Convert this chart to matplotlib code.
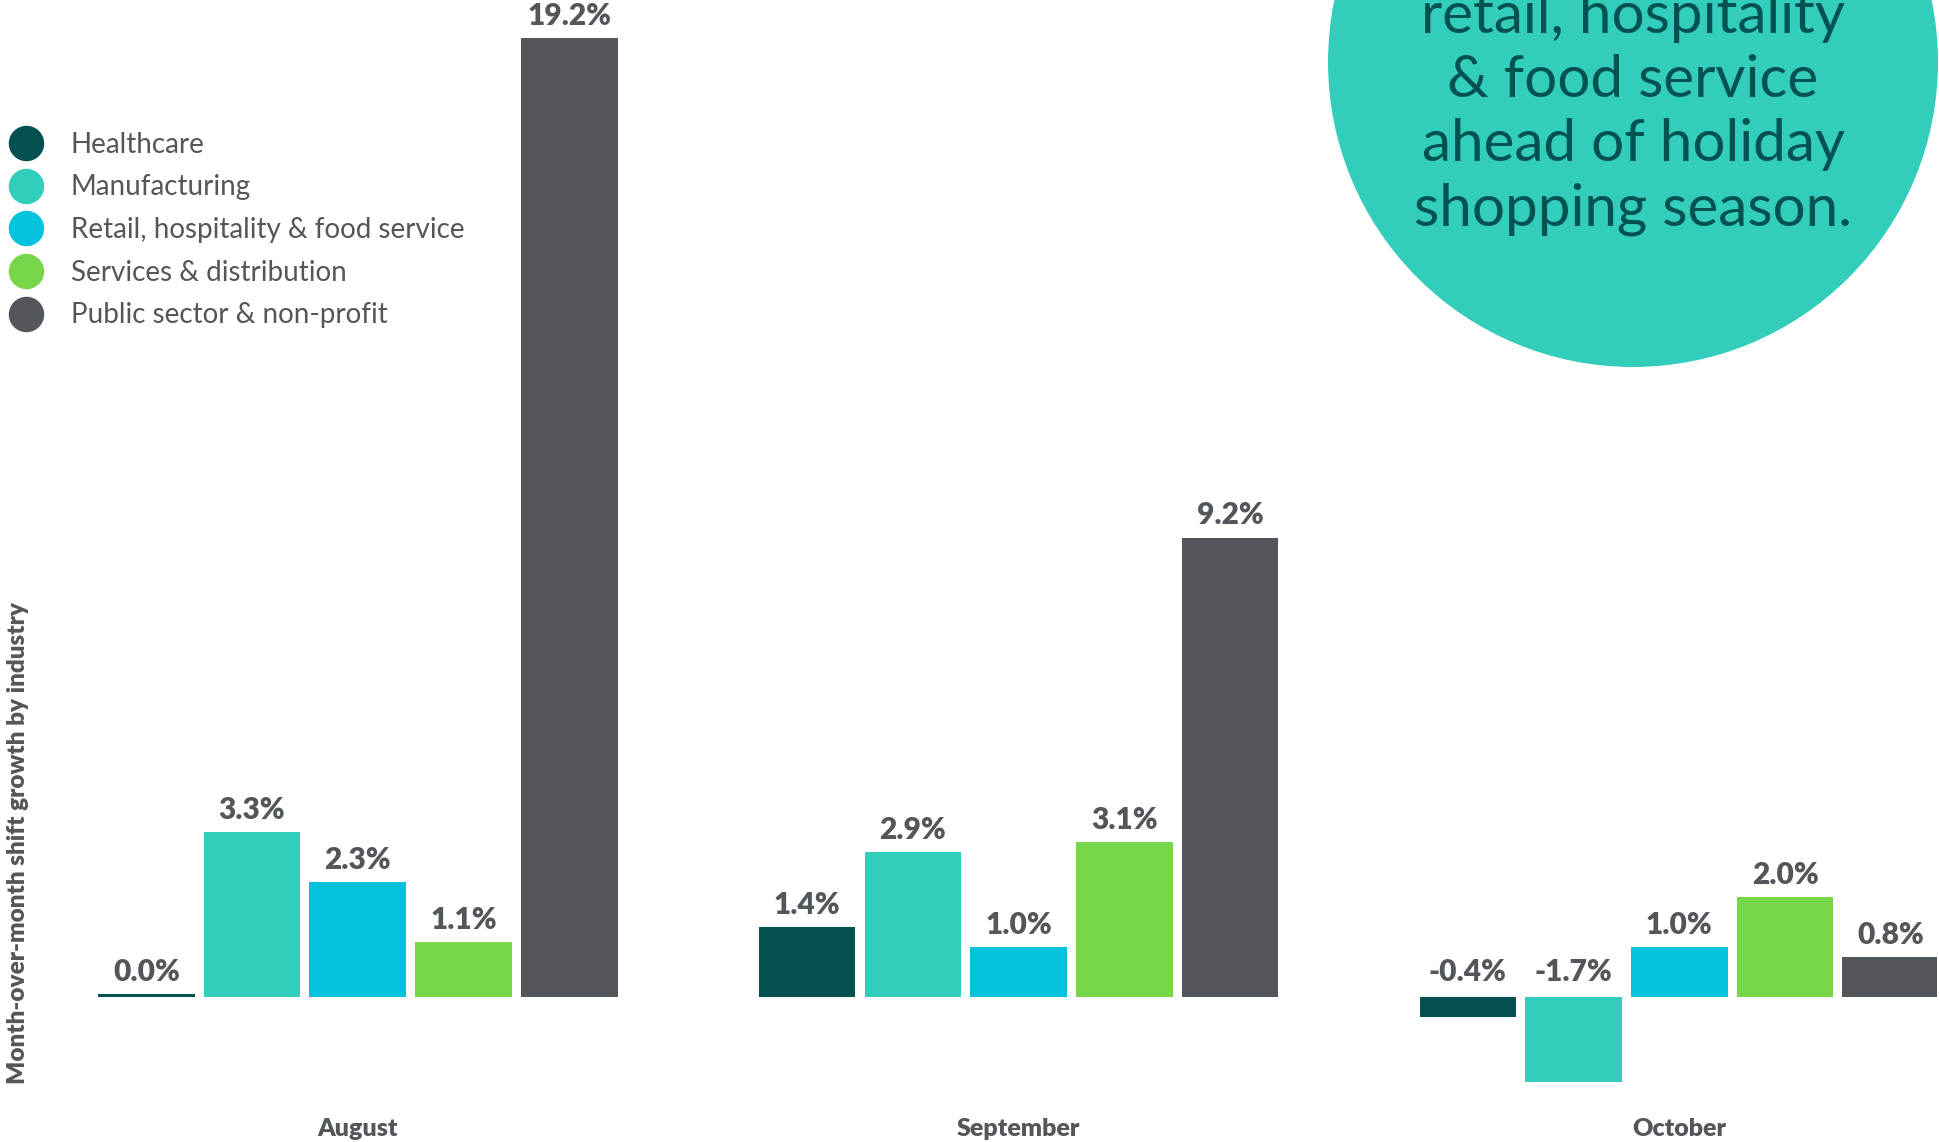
import matplotlib
matplotlib.use('Agg')
import matplotlib.pyplot as plt
from matplotlib.lines import Line2D
from matplotlib.patches import Circle
import numpy as np

months = ['August', 'September', 'October']
industries = ['Healthcare', 'Manufacturing', 'Retail, hospitality & food service',
              'Services & distribution', 'Public sector & non-profit']
healthcare = [0.0, 1.4, -0.4]
manufacturing = [3.3, 2.9, -1.7]
retail = [2.3, 1.0, 1.0]
services = [1.1, 3.1, 2.0]
public = [19.2, 9.2, 0.8]
colors = ['#02504f', '#33cebb', '#05c3dd', '#78d64b', '#53565a']
callout_lines = ['retail, hospitality', '& food service', 'ahead of holiday', 'shopping season.']

text_grey = '#53565a'
plt.rcParams['font.family'] = ['Lato', 'DejaVu Sans']

fig = plt.figure(figsize=(19.39, 11.42), dpi=100)

# callout bubble, partly off the top edge
fig.add_artist(Circle((16.33, 10.80), 3.05, transform=fig.dpi_scale_trans,
                      facecolor='#33cebb', edgecolor='none', zorder=0))
fig.text(1633 / 1939, 1 - 113 / 1142, '\n'.join(callout_lines), ha='center', va='center',
         fontsize=42, color='#035252', linespacing=1.26, zorder=1)

ax = fig.add_axes([98 / 1939, 1 - 1090 / 1142, 1839 / 1939, 1052 / 1142])
ax.patch.set_visible(False)

series = [healthcare, manufacturing, retail, services, public]
x = np.arange(len(months))
step = 0.16
width = 0.1463
for i, (vals, col) in enumerate(zip(series, colors)):
    pos = x + (i - 2) * step
    # keep zero values visible as a thin line
    heights = [v if abs(v) > 0.03 else 0.06 for v in vals]
    ax.bar(pos, heights, width=width, color=col, linewidth=0)
    for p, v in zip(pos, vals):
        ax.annotate(f'{v:.1f}%', (p, max(v, 0.06)), xytext=(0, 6), textcoords='offset points',
                    ha='center', va='bottom', fontsize=21.5, fontweight='heavy', color=text_grey)

ax.set_xlim(-0.3932, 2.39)
ax.set_ylim(-1.86, 19.2)
ax.set_xticks(x)
ax.set_xticklabels(months, fontsize=18, fontweight='heavy', color=text_grey)
ax.tick_params(axis='x', length=0, pad=20)
ax.set_yticks([])
for s in ax.spines.values():
    s.set_visible(False)

fig.text(0.0093, 1 - 843 / 1142, 'Month-over-month shift growth by industry', rotation=90,
         ha='center', va='center', fontsize=17.5, fontweight='heavy', color=text_grey)

handles = [Line2D([], [], marker='o', linestyle='', markersize=24.5, color=c) for c in colors]
fig.legend(handles, industries, loc='upper left', bbox_to_anchor=(0.0, 1 - 126 / 1142),
           frameon=False, fontsize=20, labelcolor=text_grey, handlelength=1.5,
           handletextpad=0.85, labelspacing=0.6, borderpad=0.2, borderaxespad=0)

fig.savefig('out.png', dpi=100)
